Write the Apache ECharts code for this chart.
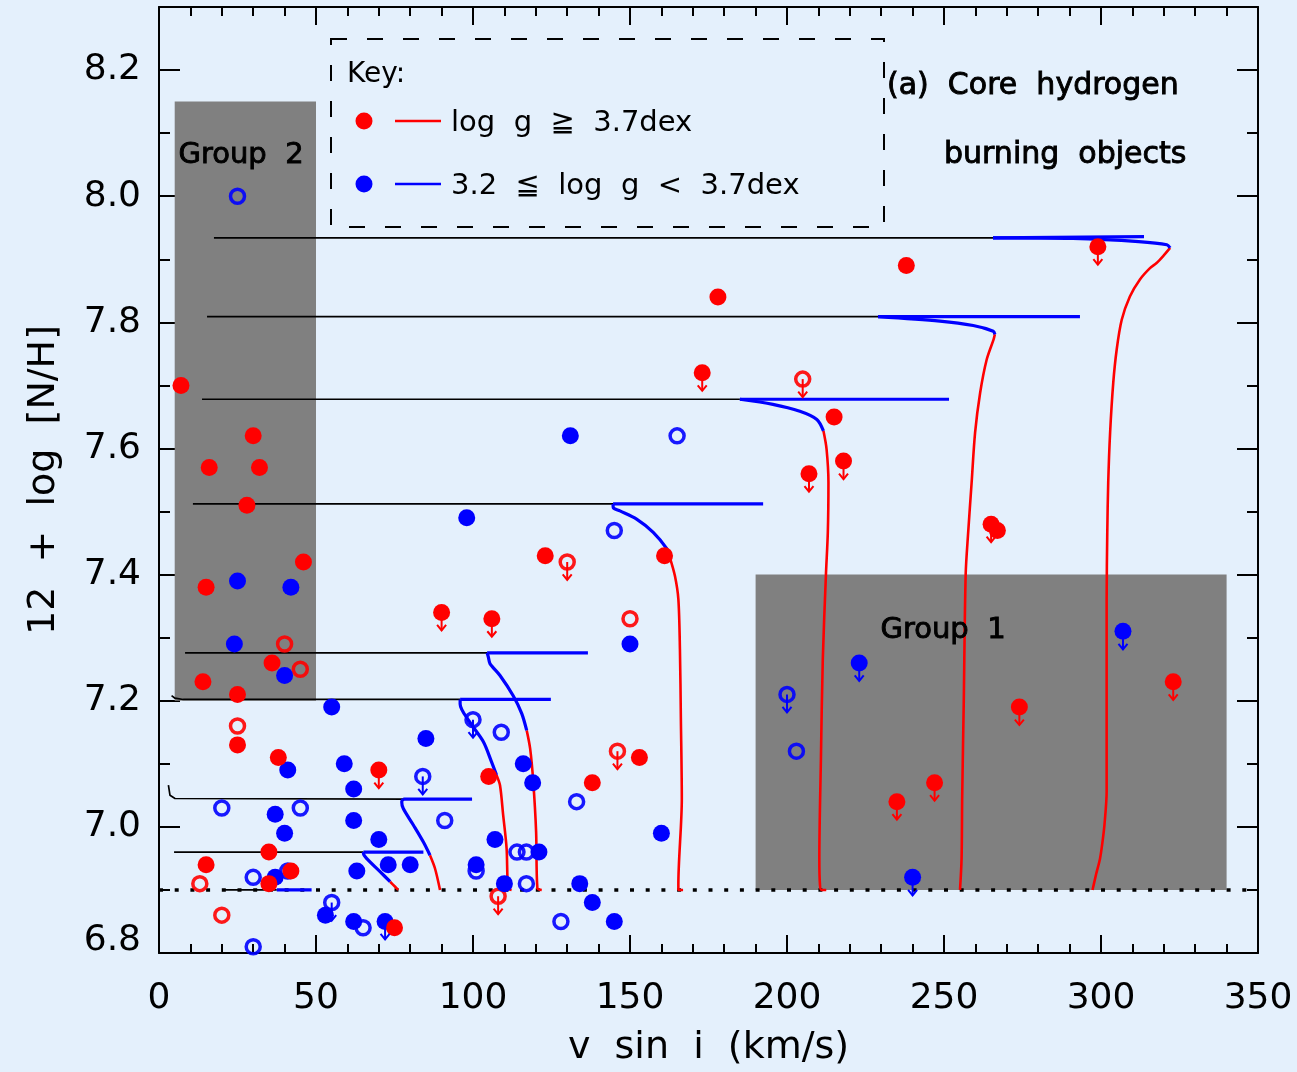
<!DOCTYPE html>
<html><head><meta charset="utf-8">
<script src="https://cdn.jsdelivr.net/npm/echarts@6/dist/echarts.min.js"></script>
<style>html,body{margin:0;padding:0;background:#e4f0fc;}#chart{width:1297px;height:1072px;}</style>
</head><body><div id="chart"></div>
<script>
// ---------- data ----------
const xTicks = [0, 50, 100, 150, 200, 250, 300, 350];
const yTicks = [6.8, 7.0, 7.2, 7.4, 7.6, 7.8, 8.0, 8.2];

// shaded group boxes: [xMin, xMax, yMin, yMax]
const groupBoxes = [[5, 50, 7.2, 8.15], [190, 340, 6.9, 7.4]];
const detectionLimit = [[0, 6.9], [350, 6.9]];

// evolutionary tracks (blue: first two points = horizontal run, rest = bend)
const trackA_black = [[17.5,7.934],[265.6,7.934]];
const trackA_blue = [[313.7,7.936],[265.6,7.934],[291,7.933],[312,7.928],[321,7.923],[322,7.918]];
const trackA_red = [[322,7.918],[319.8,7.905],[317.7,7.894],[315.6,7.886],[312.4,7.868],[309.2,7.841],[306.6,7.804],[305,7.757],[303.9,7.704],[302.9,7.625],[302.3,7.546],[302,7.467],[301.8,7.361],[301.8,7.056],[301.1,7.003],[300.5,6.977],[299.7,6.95],[298.4,6.924],[297.3,6.9]];
const trackB_black = [[15.3,7.809],[229,7.809]];
const trackB_blue = [[293.3,7.809],[229,7.809],[248.7,7.802],[259.3,7.795],[265.7,7.786],[266.2,7.781]];
const trackB_red = [[266.2,7.781],[265.8,7.773],[263.6,7.741],[261.5,7.688],[259.9,7.625],[258.8,7.546],[257.7,7.467],[256.9,7.40],[256.3,7.20],[255.8,7.05],[255.6,6.95],[255.1,6.9]];
const trackC_black = [[13.7,7.678],[185,7.678]];
const trackC_blue = [[251.6,7.678],[185,7.678],[195.5,7.670],[204.1,7.659],[209.5,7.646],[211.6,7.628]];
const trackC_red = [[211.6,7.628],[212.6,7.599],[213.2,7.546],[213,7.467],[212.4,7.40],[211.4,7.266],[210.8,7.108],[210.3,6.95],[210.5,6.908],[211,6.9],[212.5,6.9]];
const trackD_black = [[10.8,7.512],[144.6,7.512]];
const trackD_blue = [[192.4,7.512],[144.6,7.512],[144.7,7.506],[146.8,7.501],[152.1,7.488],[157.4,7.467],[161.7,7.441],[162.7,7.427]];
const trackD_red = [[162.7,7.427],[164.3,7.398],[165.4,7.361],[165.9,7.282],[166.2,7.172],[166.5,7.045],[165.4,6.908],[165.4,6.9],[166.9,6.9]];
const trackE_black = [[8.3,7.276],[104.5,7.276]];
const trackE_blue = [[136.6,7.276],[104.5,7.276],[104.9,7.269],[105.4,7.259],[108.6,7.240],[112.8,7.208],[115.5,7.18],[117.1,7.153]];
const trackE_red = [[117.1,7.153],[118.2,7.124],[119.2,7.071],[120.1,6.992],[120.5,6.903],[121.9,6.9]];
const trackF_black = [[4.0,7.208],[5.1,7.204],[7.7,7.202],[95.9,7.202]];
const trackF_blue = [[124.8,7.202],[95.9,7.202],[95.9,7.195],[99,7.166],[103.3,7.135],[105.9,7.103],[107.5,7.082]];
const trackF_red = [[107.5,7.082],[108.6,7.066],[109.6,7.019],[110.7,6.966],[111.2,6.903],[112.3,6.9]];
const trackG_black = [[3,7.066],[3.5,7.05],[5.1,7.045],[78.9,7.044]];
const trackG_blue = [[99.7,7.044],[77.8,7.044],[77.3,7.040],[77.8,7.029],[81,7.003],[84.2,6.976],[86.3,6.955]];
const trackG_red = [[86.3,6.955],[87.9,6.934],[89.5,6.9]];
const trackH_black = [[4.8,6.96],[65.1,6.96]];
const trackH_blue = [[84.2,6.96],[65.1,6.96],[65.1,6.958],[66.1,6.95],[70.4,6.929],[73.6,6.913]];
const trackH_red = [[73.6,6.913],[75.2,6.905],[76.2,6.9]];
const trackI_black = [[21,6.9],[37.5,6.9]];
const trackI_blue = [[48.6,6.9],[37.5,6.9]];

// stars: log g >= 3.7 (red) and 3.2 <= log g < 3.7 (blue)
const redFilled = [[7,7.70],[30,7.62],[16,7.57],[32,7.57],[28,7.51],[46,7.42],[15,7.38],[36,7.26],[14,7.23],[25,7.21],[25,7.13],[38,7.11],[35,6.96],[15,6.94],[42,6.93],[35,6.91],[75,6.84],[105,7.08],[153,7.11],[138,7.07],[123,7.43],[161,7.43],[178,7.84],[238,7.89],[215,7.65],[267,7.47]];
const redFilledLimit = [[90,7.34],[106,7.33],[70,7.09],[173,7.72],[207,7.56],[218,7.58],[265,7.48],[299,7.92],[235,7.04],[247,7.07],[274,7.19],[323,7.23]];
const redOpen = [[40,7.29],[45,7.25],[25,7.16],[13,6.91],[20,6.86],[150,7.33]];
const redOpenLimit = [[205,7.71],[130,7.42],[108,6.89],[146,7.12]];
const blueFilled = [[25,7.39],[42,7.38],[24,7.29],[40,7.24],[55,7.19],[98,7.49],[131,7.62],[150,7.29],[85,7.14],[41,7.09],[59,7.10],[62,7.06],[37,7.02],[62,7.01],[40,6.99],[70,6.98],[107,6.98],[63,6.93],[73,6.94],[80,6.94],[101,6.94],[37,6.92],[53,6.86],[62,6.85],[116,7.10],[119,7.07],[121,6.96],[110,6.91],[134,6.91],[138,6.88],[145,6.85],[160,6.99]];
const blueFilledLimit = [[72,6.85],[223,7.26],[240,6.92],[307,7.31]];
const blueOpen = [[25,8.00],[20,7.03],[45,7.03],[91,7.01],[30,6.92],[41,6.93],[101,6.93],[65,6.84],[30,6.81],[109,7.15],[114,6.96],[117,6.96],[117,6.91],[128,6.85],[133,7.04],[145,7.47],[165,7.62],[203,7.12]];
const blueOpenLimit = [[84,7.08],[100,7.17],[55,6.88],[200,7.21]];

// ---------- chart ----------
const FONT = 'DejaVu Sans';
const RED = '#ff0000', BLUE = '#0000ff';
const chart = echarts.init(document.getElementById('chart'), null, {renderer: 'canvas'});

function line(data, color, width, z, smooth) {
  return {type: 'line', data: data, showSymbol: false, symbol: 'none', silent: true, z: z,
    smooth: smooth || false, lineStyle: {color: color, width: width}, animation: false};
}
function filled(data, color) {
  return {type: 'scatter', data: data, symbol: 'circle', symbolSize: 17, z: 6, silent: true,
    itemStyle: {color: color, opacity: 1}, animation: false};
}
function open(data, color) {
  return {type: 'scatter', data: data, symbol: 'circle', symbolSize: 14, z: 5, silent: true,
    itemStyle: {color: 'rgba(0,0,0,0)', borderColor: color, borderWidth: 3.5, opacity: 0.9}, animation: false};
}
function arrows(data, color) {
  return {type: 'custom', data: data, z: 7, silent: true, animation: false,
    renderItem: function (params, api) {
      const c = api.coord([api.value(0), api.value(1)]);
      return {type: 'group', children: [
        {type: 'line', shape: {x1: c[0], y1: c[1], x2: c[0], y2: c[1] + 18}, style: {stroke: color, lineWidth: 2}},
        {type: 'polyline', shape: {points: [[c[0] - 4.5, c[1] + 12.5], [c[0], c[1] + 18], [c[0] + 4.5, c[1] + 12.5]]},
          style: {stroke: color, fill: null, lineWidth: 2}}
      ]};
    }};
}

const tracks = [
  [trackA_black, trackA_blue, trackA_red], [trackB_black, trackB_blue, trackB_red],
  [trackC_black, trackC_blue, trackC_red], [trackD_black, trackD_blue, trackD_red],
  [trackE_black, trackE_blue, trackE_red], [trackF_black, trackF_blue, trackF_red],
  [trackG_black, trackG_blue, trackG_red], [trackH_black, trackH_blue, trackH_red],
  [trackI_black, trackI_blue, null]
];

const series = [];
series.push({type: 'custom', data: groupBoxes, z: 1, silent: true, animation: false,
  renderItem: function (params, api) {
    const p0 = api.coord([api.value(0), api.value(3)]);
    const p1 = api.coord([api.value(1), api.value(2)]);
    return {type: 'rect', shape: {x: p0[0], y: p0[1], width: p1[0] - p0[0], height: p1[1] - p0[1]},
      style: {fill: '#808080'}};
  }});
series.push({type: 'line', data: detectionLimit, showSymbol: false, symbol: 'none', silent: true, z: 2,
  lineStyle: {color: '#000', width: 3.5, type: [4, 11.7], cap: 'butt'}, animation: false});
tracks.forEach(function (t) {
  series.push(line(t[0], '#000', 1.7, 3, false));
  if (t[2]) series.push(line(t[2], RED, 2.6, 3, 0.3));
  series.push(line(t[1].slice(0, 2), BLUE, 3.2, 4, false));
  if (t[1].length > 2) series.push(line(t[1].slice(1), BLUE, 3.2, 4, 0.3));
});
series.push(open(redOpen.concat(redOpenLimit), RED));
series.push(open(blueOpen.concat(blueOpenLimit), BLUE));
series.push(filled(blueFilled.concat(blueFilledLimit), BLUE));
series.push(filled(redFilled.concat(redFilledLimit), RED));
series.push(arrows(redFilledLimit.concat(redOpenLimit), RED));
series.push(arrows(blueFilledLimit.concat(blueOpenLimit), BLUE));

const axisLineStyle = {color: '#000', width: 2};
function yAx(pos, interval, len, main) {
  return {type: 'value', position: pos, min: 6.8, max: 8.3, interval: interval,
    axisLine: {show: main, onZero: false, lineStyle: axisLineStyle},
    axisTick: {show: true, inside: true, length: len, lineStyle: axisLineStyle},
    splitLine: {show: false},
    axisLabel: {show: false}};
}
const yMain = yAx('left', 0.2, 21, true);
yMain.axisLabel = {show: true, fontSize: 36, lineHeight: 24, fontFamily: FONT, color: '#000', margin: 18,
  showMaxLabel: false, verticalAlignMinLabel: 'bottom',
  formatter: function (v) { return yTicks.some(function (t) { return Math.abs(t - v) < 1e-6; }) ? v.toFixed(1) : ''; }};
yMain.name = '12  +  log  [N/H]';
yMain.nameLocation = 'middle';
yMain.nameGap = 96;
yMain.nameRotate = 90;
yMain.nameTextStyle = {fontSize: 38, fontFamily: FONT, color: '#000'};

const boldish = {fill: '#000', stroke: '#000', lineWidth: 0.9, verticalAlign: 'middle'};
function txt(x, y, text, size, extra) {
  return {type: 'text', z: 100, style: Object.assign({x: x, y: y, text: text, font: size + 'px "DejaVu Sans"',
    fill: '#000', verticalAlign: 'middle'}, extra || {})};
}

const option = {
  backgroundColor: '#e4f0fc',
  animation: false,
  grid: {left: 159, top: 7, width: 1099, height: 948, show: false},
  xAxis: [
    {type: 'value', position: 'bottom', min: 0, max: 350, interval: 50,
      axisLine: {show: true, onZero: false, lineStyle: axisLineStyle},
      axisTick: {inside: true, length: 18, lineStyle: axisLineStyle},
      minorTick: {show: true, splitNumber: 5, length: 9, lineStyle: axisLineStyle},
      splitLine: {show: false}, minorSplitLine: {show: false},
      axisLabel: {fontSize: 36, fontFamily: FONT, color: '#000', margin: 28,
        formatter: function (v) { return xTicks.indexOf(v) >= 0 ? String(v) : ''; }},
      name: 'v  sin  i  (km/s)', nameLocation: 'middle', nameGap: 76,
      nameTextStyle: {fontSize: 38, fontFamily: FONT, color: '#000'}},
    {type: 'value', position: 'top', min: 0, max: 350, interval: 50,
      axisLine: {show: true, onZero: false, lineStyle: axisLineStyle},
      axisTick: {inside: true, length: 18, lineStyle: axisLineStyle},
      minorTick: {show: true, splitNumber: 5, length: 9, lineStyle: axisLineStyle},
      splitLine: {show: false}, axisLabel: {show: false}}
  ],
  yAxis: [yMain, yAx('left', 0.1, 11, false), yAx('right', 0.2, 21, true), yAx('right', 0.1, 11, false)],
  series: series,
  graphic: [
    {type: 'rect', z: 100, shape: {x: 331, y: 39, width: 553, height: 188},
      style: {fill: null, stroke: '#000', lineWidth: 2, lineDash: [16, 20]}},
    txt(347, 75, 'Key:', 28),
    {type: 'circle', z: 100, shape: {cx: 364, cy: 121, r: 8.5}, style: {fill: RED}},
    {type: 'line', z: 100, shape: {x1: 395, y1: 121, x2: 441, y2: 121}, style: {stroke: RED, lineWidth: 2.5}},
    txt(451, 123, 'log  g  \u2267  3.7dex', 29),
    {type: 'circle', z: 100, shape: {cx: 364, cy: 184, r: 8.5}, style: {fill: BLUE}},
    {type: 'line', z: 100, shape: {x1: 395, y1: 184, x2: 441, y2: 184}, style: {stroke: BLUE, lineWidth: 2.5}},
    txt(451, 186, '3.2  \u2266  log  g  <  3.7dex', 29),
    txt(887, 86, '(a)  Core  hydrogen', 30, boldish),
    txt(944, 155, 'burning  objects', 30, boldish),
    txt(241, 155, 'Group  2', 29, Object.assign({align: 'center'}, boldish)),
    txt(943, 630, 'Group  1', 29, Object.assign({align: 'center'}, boldish))
  ]
};
chart.setOption(option);
</script></body></html>
